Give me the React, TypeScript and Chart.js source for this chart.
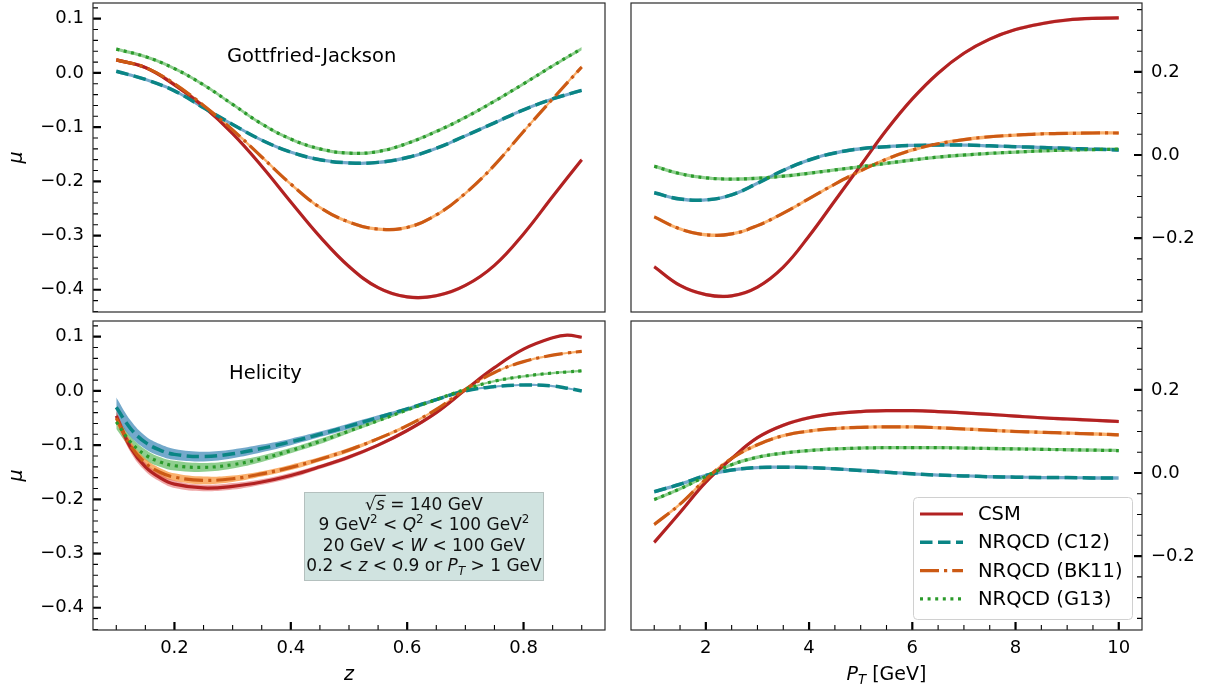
import React, { useEffect, useRef } from 'react';
import { Chart, registerables } from 'chart.js';

Chart.register(...registerables);

const FONT = "'DejaVu Sans', 'Liberation Sans', sans-serif";

// ---------------- data ----------------
// z grid, Gottfried-Jackson frame (top left)
const Z_GJ = [0.1, 0.15, 0.2, 0.25, 0.3, 0.35, 0.4, 0.45, 0.5, 0.55, 0.6, 0.65, 0.7, 0.75, 0.8, 0.85, 0.9];
const GJ_Z_CSM = [0.024, 0.010, -0.022, -0.062, -0.112, -0.172, -0.238, -0.302, -0.357, -0.396, -0.413, -0.411, -0.392, -0.355, -0.297, -0.228, -0.160];
const GJ_Z_C12 = [0.003, -0.012, -0.033, -0.064, -0.095, -0.124, -0.146, -0.160, -0.166, -0.165, -0.156, -0.139, -0.116, -0.092, -0.068, -0.048, -0.032];
const GJ_Z_BK11 = [0.024, 0.010, -0.020, -0.060, -0.105, -0.155, -0.205, -0.248, -0.275, -0.288, -0.285, -0.262, -0.222, -0.170, -0.108, -0.048, 0.011];
const GJ_Z_G13 = [0.044, 0.030, 0.008, -0.022, -0.058, -0.094, -0.122, -0.140, -0.148, -0.145, -0.130, -0.108, -0.082, -0.052, -0.020, 0.013, 0.045];
const GJ_Z_ERR = [0.003, 0.003, 0.003, 0.003, 0.003, 0.003, 0.003, 0.003, 0.003, 0.003, 0.003, 0.003, 0.003, 0.003, 0.003, 0.003, 0.003];

// z grid, helicity frame (bottom left)
const Z_HEL = [0.1, 0.125, 0.15, 0.175, 0.2, 0.25, 0.3, 0.35, 0.4, 0.45, 0.5, 0.55, 0.6, 0.65, 0.7, 0.75, 0.8, 0.85, 0.875, 0.9];
const HEL_Z_CSM = [-0.046, -0.105, -0.140, -0.160, -0.172, -0.179, -0.176, -0.168, -0.156, -0.140, -0.122, -0.100, -0.073, -0.040, 0.002, 0.043, 0.077, 0.098, 0.103, 0.099];
const HEL_Z_C12 = [-0.030, -0.070, -0.095, -0.109, -0.117, -0.121, -0.116, -0.106, -0.094, -0.080, -0.065, -0.049, -0.033, -0.016, 0.000, 0.008, 0.011, 0.009, 0.005, 0.000];
const HEL_Z_BK11 = [-0.050, -0.102, -0.133, -0.150, -0.159, -0.165, -0.162, -0.153, -0.141, -0.126, -0.109, -0.088, -0.064, -0.034, 0.003, 0.034, 0.054, 0.066, 0.070, 0.073];
const HEL_Z_G13 = [-0.057, -0.095, -0.118, -0.131, -0.138, -0.141, -0.136, -0.125, -0.110, -0.093, -0.074, -0.055, -0.035, -0.016, 0.003, 0.018, 0.027, 0.033, 0.035, 0.037];
const HEL_Z_ERR_CSM = [0.010, 0.009, 0.008, 0.007, 0.007, 0.006, 0.006, 0.005, 0.005, 0.004, 0.004, 0.003, 0.003, 0.003, 0.002, 0.002, 0.002, 0.002, 0.002, 0.002];
const HEL_Z_ERR_C12 = [0.018, 0.015, 0.012, 0.011, 0.010, 0.009, 0.008, 0.007, 0.006, 0.005, 0.005, 0.004, 0.003, 0.003, 0.002, 0.002, 0.002, 0.002, 0.002, 0.002];
const HEL_Z_ERR_BK11 = [0.010, 0.009, 0.008, 0.008, 0.007, 0.007, 0.006, 0.005, 0.005, 0.004, 0.004, 0.003, 0.003, 0.002, 0.002, 0.002, 0.002, 0.002, 0.002, 0.002];
const HEL_Z_ERR_G13 = [0.013, 0.011, 0.010, 0.009, 0.009, 0.008, 0.007, 0.006, 0.005, 0.005, 0.004, 0.003, 0.003, 0.003, 0.002, 0.002, 0.002, 0.002, 0.002, 0.002];

// P_T grid (right column)
const PT = [1, 1.5, 2, 2.5, 3, 3.5, 4, 4.5, 5, 5.5, 6, 6.5, 7, 7.5, 8, 8.5, 9, 9.5, 10];
const GJ_PT_CSM = [-0.269, -0.314, -0.336, -0.339, -0.318, -0.270, -0.195, -0.110, -0.025, 0.060, 0.135, 0.197, 0.245, 0.279, 0.302, 0.316, 0.325, 0.329, 0.330];
const GJ_PT_C12 = [-0.091, -0.106, -0.108, -0.096, -0.068, -0.037, -0.012, 0.005, 0.015, 0.020, 0.023, 0.024, 0.024, 0.022, 0.020, 0.018, 0.016, 0.014, 0.012];
const GJ_PT_BK11 = [-0.149, -0.178, -0.192, -0.190, -0.170, -0.140, -0.105, -0.070, -0.038, -0.010, 0.012, 0.027, 0.037, 0.044, 0.048, 0.051, 0.052, 0.053, 0.053];
const GJ_PT_G13 = [-0.027, -0.045, -0.055, -0.058, -0.056, -0.051, -0.044, -0.036, -0.028, -0.020, -0.012, -0.005, 0.000, 0.004, 0.007, 0.010, 0.012, 0.013, 0.014];
const HEL_PT_CSM = [-0.167, -0.095, -0.022, 0.035, 0.085, 0.115, 0.133, 0.143, 0.148, 0.150, 0.150, 0.148, 0.145, 0.141, 0.137, 0.133, 0.130, 0.127, 0.124];
const HEL_PT_C12 = [-0.045, -0.027, -0.006, 0.007, 0.013, 0.014, 0.013, 0.010, 0.006, 0.002, -0.002, -0.005, -0.007, -0.009, -0.010, -0.011, -0.011, -0.012, -0.012];
const HEL_PT_BK11 = [-0.124, -0.075, -0.015, 0.035, 0.068, 0.090, 0.101, 0.107, 0.110, 0.111, 0.111, 0.109, 0.106, 0.103, 0.100, 0.098, 0.096, 0.094, 0.092];
const HEL_PT_G13 = [-0.064, -0.038, -0.008, 0.020, 0.038, 0.048, 0.054, 0.058, 0.060, 0.061, 0.061, 0.061, 0.060, 0.059, 0.058, 0.057, 0.056, 0.055, 0.054];
const PT_ERR = [0.004, 0.004, 0.004, 0.004, 0.004, 0.004, 0.004, 0.004, 0.004, 0.004, 0.004, 0.004, 0.004, 0.004, 0.004, 0.004, 0.004, 0.004, 0.004];

// ticks
const Z_TICKS = [0.2, 0.4, 0.6, 0.8];
const PT_TICKS = [2, 4, 6, 8, 10];
const MU_Z_TICKS = [-0.4, -0.3, -0.2, -0.1, 0.0, 0.1];
const MU_PT_TICKS = [-0.2, 0.0, 0.2];

const LEGEND_LABELS = ['CSM', 'NRQCD (C12)', 'NRQCD (BK11)', 'NRQCD (G13)'];

// ---------------- styles ----------------
const SERIES = [
  { color: '#b22222', band: 'rgba(225,95,95,0.55)', width: 3.2, dash: [] as number[] },
  { color: '#0a8585', band: 'rgba(70,140,185,0.75)', width: 3.5, dash: [12.5, 5.5] },
  { color: '#cc5a14', band: 'rgba(248,150,60,0.75)', width: 3.2, dash: [19, 5, 3.2, 5] },
  { color: '#2a9a2a', band: 'rgba(95,185,95,0.7)', width: 3.2, dash: [3, 4.6] },
];

function steps(from: number, to: number, step: number) {
  const out: number[] = [];
  const n = Math.round((to - from) / step);
  for (let i = 0; i <= n; i++) out.push(+(from + i * step).toFixed(6));
  return out;
}
function minorOf(all: number[], major: number[]) {
  return all.filter((v) => !major.some((m) => Math.abs(m - v) < 1e-6));
}
const fmt1 = (v: number) => {
  const s = Math.abs(v).toFixed(1);
  return v < -1e-9 ? '\u2212' + s : s;
};

type Seg = { t: string; it?: boolean; sup?: boolean; sub?: boolean; over?: boolean };

function drawRich(ctx: CanvasRenderingContext2D, segs: Seg[], x0: number, baseline: number, size: number, align: 'center' | 'left') {
  const font = (s: Seg) => `${s.it ? 'italic ' : ''}${s.sup || s.sub ? size * 0.7 : size}px ${FONT}`;
  let w = 0;
  for (const s of segs) {
    ctx.font = font(s);
    w += ctx.measureText(s.t).width;
  }
  let x = align === 'center' ? x0 - w / 2 : x0;
  ctx.textAlign = 'left';
  ctx.textBaseline = 'alphabetic';
  for (const s of segs) {
    ctx.font = font(s);
    const dy = s.sup ? -size * 0.4 : s.sub ? size * 0.22 : 0;
    ctx.fillText(s.t, x, baseline + dy);
    const sw = ctx.measureText(s.t).width;
    if (s.over) {
      ctx.save();
      ctx.lineWidth = 1.1;
      ctx.strokeStyle = ctx.fillStyle as string;
      ctx.beginPath();
      ctx.moveTo(x - 1, baseline - size * 0.86);
      ctx.lineTo(x + sw + 1, baseline - size * 0.86);
      ctx.stroke();
      ctx.restore();
    }
    x += sw;
  }
}

type Box = { x: number; y: number; w: number; h: number };
type Area = { left: number; top: number; right: number; bottom: number };
type PanelDef = {
  id: string;
  box: Box;
  area: Area;
  xs: number[];
  values: number[][];
  errs: number[][];
  xMin: number;
  xMax: number;
  xMajor: number[];
  xMinor: number[];
  xLabels: boolean;
  xFmt: (v: number) => string;
  yMin: number;
  yMax: number;
  yMajor: number[];
  yMinor: number[];
  ySide: 'left' | 'right';
  decorate: (ctx: CanvasRenderingContext2D, a: Area) => void;
};

function drawMu(ctx: CanvasRenderingContext2D, a: Area) {
  ctx.save();
  ctx.fillStyle = '#000';
  ctx.font = `italic 19px ${FONT}`;
  ctx.translate(22, (a.top + a.bottom) / 2);
  ctx.rotate(-Math.PI / 2);
  ctx.textAlign = 'center';
  ctx.textBaseline = 'alphabetic';
  ctx.fillText('\u03bc', 0, 0);
  ctx.restore();
}

const TENSION = 0.4;

function buildChart(canvas: HTMLCanvasElement, def: PanelDef) {
  const datasets: any[] = [];
  SERIES.forEach((s, i) => {
    const c = def.values[i];
    const e = def.errs[i];
    datasets.push({
      data: def.xs.map((x, j) => ({ x, y: c[j] + e[j] })),
      borderWidth: 0,
      borderColor: 'rgba(0,0,0,0)',
      pointRadius: 0,
      fill: '+1',
      backgroundColor: s.band,
      order: 20 + i,
      tension: TENSION,
    });
    datasets.push({
      data: def.xs.map((x, j) => ({ x, y: c[j] - e[j] })),
      borderWidth: 0,
      borderColor: 'rgba(0,0,0,0)',
      pointRadius: 0,
      fill: false,
      order: 20 + i,
      tension: TENSION,
    });
  });
  SERIES.forEach((s, i) => {
    datasets.push({
      label: LEGEND_LABELS[i],
      data: def.xs.map((x, j) => ({ x, y: def.values[i][j] })),
      borderColor: s.color,
      borderWidth: s.width,
      borderDash: s.dash,
      borderCapStyle: 'butt',
      pointRadius: 0,
      fill: false,
      order: 10 - i,
      tension: TENSION,
    });
  });

  const leftY = def.ySide === 'left';
  const tickFont = { family: FONT, size: 18 };

  const decor = {
    id: 'decor-' + def.id,
    afterDraw(chart: any) {
      const ctx: CanvasRenderingContext2D = chart.ctx;
      const a = chart.chartArea as Area;
      const xs = chart.scales.x;
      const ys = chart.scales.y;
      ctx.save();
      ctx.strokeStyle = '#000';
      ctx.lineCap = 'butt';
      // y ticks (inward)
      const yEdge = leftY ? a.left : a.right;
      const dir = leftY ? 1 : -1;
      const yGroups: [number[], number, number][] = [
        [def.yMajor, 8, 2.2],
        [def.yMinor, 5, 1.1],
      ];
      for (const [vals, len, lw] of yGroups) {
        ctx.lineWidth = lw;
        ctx.beginPath();
        for (const v of vals) {
          const p = ys.getPixelForValue(v);
          if (p < a.top - 0.5 || p > a.bottom + 0.5) continue;
          ctx.moveTo(yEdge, p);
          ctx.lineTo(yEdge + dir * len, p);
        }
        ctx.stroke();
      }
      if (def.xLabels) {
        const xGroups: [number[], number, number][] = [
          [def.xMajor, 8, 2.2],
          [def.xMinor, 5, 1.1],
        ];
        for (const [vals, len, lw] of xGroups) {
          ctx.lineWidth = lw;
          ctx.beginPath();
          for (const v of vals) {
            const p = xs.getPixelForValue(v);
            ctx.moveTo(p, a.bottom);
            ctx.lineTo(p, a.bottom - len);
          }
          ctx.stroke();
        }
      }
      // frame
      ctx.lineWidth = 1.2;
      ctx.strokeStyle = '#2a2a2a';
      ctx.strokeRect(a.left, a.top, a.right - a.left, a.bottom - a.top);
      ctx.restore();
      ctx.save();
      def.decorate(ctx, a);
      ctx.restore();
    },
  };

  return new Chart(canvas, {
    type: 'line',
    data: { datasets },
    options: {
      animation: false,
      responsive: false,
      devicePixelRatio: 1,
      events: [],
      layout: {
        padding: {
          left: leftY ? 0 : def.area.left,
          right: leftY ? def.box.w - def.area.right : 0,
          top: def.area.top,
          bottom: 0,
        },
      },
      plugins: {
        legend: { display: false },
        tooltip: { enabled: false },
        title: { display: false },
      },
      scales: {
        x: {
          type: 'linear',
          min: def.xMin,
          max: def.xMax,
          grid: { display: false, drawTicks: false },
          border: { display: false },
          ticks: {
            display: def.xLabels,
            autoSkip: false,
            maxRotation: 0,
            minRotation: 0,
            padding: 8,
            color: '#000',
            font: tickFont,
            callback: (v: any) => def.xFmt(Number(v)),
          },
          afterBuildTicks: (sc: any) => {
            sc.ticks = def.xMajor.map((v) => ({ value: v }));
          },
          afterFit: (sc: any) => {
            sc.height = def.box.h - def.area.bottom;
            sc.paddingLeft = 0;
            sc.paddingRight = 0;
          },
        },
        y: {
          type: 'linear',
          position: def.ySide,
          min: def.yMin,
          max: def.yMax,
          grid: { display: false, drawTicks: false },
          border: { display: false },
          ticks: {
            autoSkip: false,
            padding: 9,
            color: '#000',
            font: tickFont,
            callback: (v: any) => fmt1(Number(v)),
          },
          afterBuildTicks: (sc: any) => {
            sc.ticks = def.yMajor.map((v) => ({ value: v }));
          },
          afterFit: (sc: any) => {
            sc.width = leftY ? def.area.left : def.box.w - def.area.right;
            sc.paddingTop = 0;
            sc.paddingBottom = 0;
          },
        },
      },
    } as any,
    plugins: [decor],
  });
}

function Panel({ def }: { def: PanelDef }) {
  const ref = useRef<HTMLCanvasElement>(null);
  useEffect(() => {
    const chart = buildChart(ref.current as HTMLCanvasElement, def);
    return () => chart.destroy();
  }, []);
  return (
    <canvas
      ref={ref}
      width={def.box.w}
      height={def.box.h}
      style={{ position: 'absolute', left: def.box.x, top: def.box.y, width: def.box.w, height: def.box.h }}
    />
  );
}

const Z_MIN = 0.06;
const Z_MAX = 0.94;
const PT_MIN = 0.55;
const PT_MAX = 10.45;
const MU_Z_MIN = -0.441;
const MU_Z_MAX = 0.129;
const MU_PT_MIN = -0.378;
const MU_PT_MAX = 0.366;

const Z_MINOR = minorOf(steps(0.1, 0.9, 0.05), Z_TICKS);
const PT_MINOR = minorOf(steps(1, 10, 0.5), PT_TICKS);
const MU_Z_MINOR = minorOf(steps(-0.44, 0.12, 0.02), MU_Z_TICKS);
const MU_PT_MINOR = minorOf(steps(-0.35, 0.35, 0.05), MU_PT_TICKS);

const BOX_LINES: Seg[][] = [
  [{ t: '\u221a' }, { t: 's', it: true, over: true }, { t: ' = 140 GeV' }],
  [{ t: '9 GeV' }, { t: '2', sup: true }, { t: ' < ' }, { t: 'Q', it: true }, { t: '2', sup: true }, { t: ' < 100 GeV' }, { t: '2', sup: true }],
  [{ t: '20 GeV < ' }, { t: 'W', it: true }, { t: ' < 100 GeV' }],
  [{ t: '0.2 < ' }, { t: 'z', it: true }, { t: ' < 0.9 or ' }, { t: 'P', it: true }, { t: 'T', it: true, sub: true }, { t: ' > 1 GeV' }],
];

const PANELS: PanelDef[] = [
  {
    id: 'gj-z',
    box: { x: 0, y: 0, w: 618, h: 316 },
    area: { left: 93, top: 3, right: 605, bottom: 312 },
    xs: Z_GJ,
    values: [GJ_Z_CSM, GJ_Z_C12, GJ_Z_BK11, GJ_Z_G13],
    errs: [GJ_Z_ERR, GJ_Z_ERR, GJ_Z_ERR, GJ_Z_ERR],
    xMin: Z_MIN, xMax: Z_MAX, xMajor: Z_TICKS, xMinor: Z_MINOR, xLabels: false,
    xFmt: (v) => v.toFixed(1),
    yMin: MU_Z_MIN, yMax: MU_Z_MAX, yMajor: MU_Z_TICKS, yMinor: MU_Z_MINOR, ySide: 'left',
    decorate: (ctx, a) => {
      drawMu(ctx, a);
      ctx.fillStyle = '#000';
      ctx.font = `19.5px ${FONT}`;
      ctx.textAlign = 'left';
      ctx.textBaseline = 'alphabetic';
      ctx.fillText('Gottfried-Jackson', 227, a.top + 58.5);
    },
  },
  {
    id: 'hel-z',
    box: { x: 0, y: 316, w: 618, h: 375 },
    area: { left: 93, top: 5, right: 605, bottom: 314 },
    xs: Z_HEL,
    values: [HEL_Z_CSM, HEL_Z_C12, HEL_Z_BK11, HEL_Z_G13],
    errs: [HEL_Z_ERR_CSM, HEL_Z_ERR_C12, HEL_Z_ERR_BK11, HEL_Z_ERR_G13],
    xMin: Z_MIN, xMax: Z_MAX, xMajor: Z_TICKS, xMinor: Z_MINOR, xLabels: true,
    xFmt: (v) => v.toFixed(1),
    yMin: MU_Z_MIN, yMax: MU_Z_MAX, yMajor: MU_Z_TICKS, yMinor: MU_Z_MINOR, ySide: 'left',
    decorate: (ctx, a) => {
      drawMu(ctx, a);
      ctx.fillStyle = '#000';
      ctx.font = `19.5px ${FONT}`;
      ctx.textAlign = 'left';
      ctx.textBaseline = 'alphabetic';
      ctx.fillText('Helicity', 229, a.top + 58);
      // info box
      ctx.fillStyle = '#d0e3e0';
      ctx.strokeStyle = '#b4c0be';
      ctx.lineWidth = 1;
      ctx.fillRect(304, 176, 240, 89);
      ctx.strokeRect(304.5, 176.5, 239, 88);
      ctx.fillStyle = '#111';
      const bases = [194, 214, 234.5, 255];
      BOX_LINES.forEach((line, i) => drawRich(ctx, line, 424, bases[i], 17, 'center'));
      // x title
      ctx.fillStyle = '#000';
      drawRich(ctx, [{ t: 'z', it: true }], (a.left + a.right) / 2, 364, 19, 'center');
    },
  },
  {
    id: 'gj-pt',
    box: { x: 618, y: 0, w: 592, h: 316 },
    area: { left: 13, top: 3, right: 524, bottom: 312 },
    xs: PT,
    values: [GJ_PT_CSM, GJ_PT_C12, GJ_PT_BK11, GJ_PT_G13],
    errs: [PT_ERR, PT_ERR, PT_ERR, PT_ERR],
    xMin: PT_MIN, xMax: PT_MAX, xMajor: PT_TICKS, xMinor: PT_MINOR, xLabels: false,
    xFmt: (v) => String(Math.round(v)),
    yMin: MU_PT_MIN, yMax: MU_PT_MAX, yMajor: MU_PT_TICKS, yMinor: MU_PT_MINOR, ySide: 'right',
    decorate: () => {},
  },
  {
    id: 'hel-pt',
    box: { x: 618, y: 316, w: 592, h: 375 },
    area: { left: 13, top: 5, right: 524, bottom: 314 },
    xs: PT,
    values: [HEL_PT_CSM, HEL_PT_C12, HEL_PT_BK11, HEL_PT_G13],
    errs: [PT_ERR, PT_ERR, PT_ERR, PT_ERR],
    xMin: PT_MIN, xMax: PT_MAX, xMajor: PT_TICKS, xMinor: PT_MINOR, xLabels: true,
    xFmt: (v) => String(Math.round(v)),
    yMin: MU_PT_MIN, yMax: MU_PT_MAX, yMajor: MU_PT_TICKS, yMinor: MU_PT_MINOR, ySide: 'right',
    decorate: (ctx, a) => {
      // legend
      const lx = a.right - 229;
      const ly = a.bottom - 133;
      ctx.fillStyle = 'rgba(255,255,255,0.85)';
      ctx.strokeStyle = '#d0d0d0';
      ctx.lineWidth = 1;
      ctx.beginPath();
      (ctx as any).roundRect(lx + 0.5, ly + 0.5, 219, 122, 4);
      ctx.fill();
      ctx.stroke();
      SERIES.forEach((s, i) => {
        const cy = ly + 17 + i * 28.3;
        ctx.save();
        ctx.strokeStyle = s.color;
        ctx.lineWidth = s.width;
        ctx.setLineDash(s.dash);
        ctx.lineCap = 'butt';
        ctx.beginPath();
        ctx.moveTo(lx + 7, cy);
        ctx.lineTo(lx + 50, cy);
        ctx.stroke();
        ctx.restore();
        ctx.fillStyle = '#000';
        ctx.font = `19.5px ${FONT}`;
        ctx.textAlign = 'left';
        ctx.textBaseline = 'middle';
        ctx.fillText(LEGEND_LABELS[i], lx + 65, cy + 1);
      });
      ctx.fillStyle = '#000';
      drawRich(ctx, [{ t: 'P', it: true }, { t: 'T', it: true, sub: true }, { t: ' [GeV]' }], (a.left + a.right) / 2, 364, 19, 'center');
    },
  },
];

export default function App() {
  return (
    <div style={{ position: 'fixed', left: 0, top: 0, width: 1210, height: 691, background: '#fff' }}>
      {PANELS.map((p) => (
        <Panel key={p.id} def={p} />
      ))}
    </div>
  );
}
